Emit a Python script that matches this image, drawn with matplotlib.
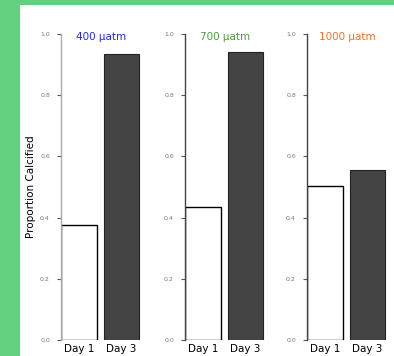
import matplotlib.pyplot as plt
from matplotlib.patches import Rectangle

# values
days = ['Day 1', 'Day 3']
titles = ['400 µatm', '700 µatm', '1000 µatm']
title_colors = ['#2a2ae0', '#4f9a3a', '#e8732a']
day1 = [0.375, 0.435, 0.503]
day3 = [0.935, 0.940, 0.556]
yticks = [0.0, 0.2, 0.4, 0.6, 0.8, 1.0]

fig = plt.figure(figsize=(3.94, 3.56), dpi=100)
fig.patch.set_facecolor('#62d07f')
fig.patches.append(Rectangle((20 / 394, 0), 1, 1 - 5 / 356, transform=fig.transFigure,
                             facecolor='white', edgecolor='none', zorder=-5))

lefts = [61, 185, 307]
for i, left in enumerate(lefts):
    ax = fig.add_axes([left / 394, 0.045, 80 / 394, 0.86])
    ax.patch.set_alpha(0)
    ax.bar([0], [day1[i]], width=0.84, color='white', edgecolor='black', linewidth=1.0)
    ax.bar([1], [day3[i]], width=0.84, color='#444444', edgecolor='#222222', linewidth=0.8)
    ax.set_xlim(-0.42, 1.46)
    ax.set_ylim(0, 1.0)
    ax.set_yticks(yticks)
    ax.set_yticklabels(['%.1f' % v for v in yticks], fontsize=4.5, color='#777777')
    ax.set_xticks([0, 1])
    ax.set_xticklabels(days, fontsize=7.5)
    ax.tick_params(axis='x', length=0, pad=3)
    ax.tick_params(axis='y', length=3, width=0.8, color='#555555', pad=5)
    for s in ['top', 'right', 'bottom']:
        ax.spines[s].set_visible(False)
    ax.spines['left'].set_color('#aaaaaa' if i == 0 else '#444444')
    ax.spines['left'].set_linewidth(1.0)
    ax.text(0.5, 0.988, titles[i], transform=ax.transAxes, ha='center', va='center',
            fontsize=7.5, color=title_colors[i])
    if i == 0:
        ax.set_ylabel('Proportion Calcified', fontsize=7.5, labelpad=3)

plt.savefig('out.png', dpi=100, facecolor=fig.get_facecolor())
